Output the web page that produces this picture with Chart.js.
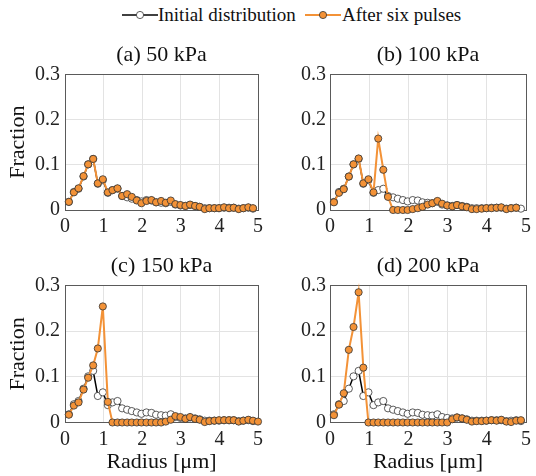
<!DOCTYPE html>
<html>
<head>
<meta charset="utf-8">
<script src="https://cdn.jsdelivr.net/npm/chart.js@4.4.1/dist/chart.umd.min.js"></script>
<style>
  body { margin: 0; width: 536px; height: 476px; background: #fff; position: relative; overflow: hidden; font-family: 'Times New Roman', 'Liberation Serif', 'DejaVu Serif', serif; }
  canvas { position: absolute; }
  .lg { position: absolute; font-size: 19px; color: #111; line-height: 24px; top: 3px; white-space: nowrap; }
  svg { position: absolute; }
</style>
</head>
<body>
<svg style="left:122px;top:9px" width="36" height="12"><line x1="0" y1="6" x2="36" y2="6" stroke="#000" stroke-width="1.6"/><circle cx="18" cy="6" r="3.6" fill="#fff" stroke="#333" stroke-width="0.8"/></svg>
<span class="lg" style="left:158px">Initial distribution</span>
<svg style="left:305px;top:9px" width="36" height="12"><line x1="0" y1="6" x2="36" y2="6" stroke="#f39237" stroke-width="2"/><circle cx="18" cy="6" r="3.6" fill="#f39237" stroke="#333" stroke-width="0.8"/></svg>
<span class="lg" style="left:342px">After six pulses</span>

<canvas id="pa" width="268" height="201" style="left:0;top:42px"></canvas>
<canvas id="pb" width="268" height="201" style="left:268px;top:42px"></canvas>
<canvas id="pc" width="268" height="223" style="left:0;top:253px"></canvas>
<canvas id="pd" width="268" height="223" style="left:268px;top:253px"></canvas>

<script>
// bubble radius bins (um)
const radius = [0.10, 0.23, 0.35, 0.48, 0.60, 0.73, 0.85, 0.98, 1.11, 1.23,
                1.36, 1.48, 1.61, 1.73, 1.86, 1.98, 2.11, 2.24, 2.36, 2.49,
                2.61, 2.74, 2.86, 2.99, 3.12, 3.24, 3.37, 3.49, 3.62, 3.74,
                3.87, 3.99, 4.12, 4.25, 4.37, 4.50, 4.62, 4.75, 4.87, 5.00];

const initial = [0.018, 0.040, 0.047, 0.074, 0.101, 0.113, 0.058, 0.066, 0.038, 0.044,
                 0.047, 0.031, 0.028, 0.025, 0.022, 0.019, 0.022, 0.021, 0.017, 0.016,
                 0.015, 0.018, 0.012, 0.010, 0.009, 0.011, 0.009, 0.007, 0.004, 0.004,
                 0.004, 0.004, 0.005, 0.005, 0.005, 0.003, 0.004, 0.005, 0.003];

const after50 = [0.018, 0.039, 0.048, 0.075, 0.101, 0.113, 0.059, 0.068, 0.039, 0.044,
                 0.048, 0.031, 0.035, 0.029, 0.021, 0.015, 0.020, 0.022, 0.017, 0.020,
                 0.016, 0.021, 0.013, 0.011, 0.009, 0.012, 0.009, 0.007, 0.002, 0.004,
                 0.004, 0.004, 0.006, 0.004, 0.005, 0.002, 0.004, 0.006, 0.004];

const after100 = [0.017, 0.038, 0.046, 0.074, 0.101, 0.114, 0.059, 0.068, 0.039, 0.158,
                  0.089, 0.029, 0.000, 0.000, 0.000, 0.000, 0.002, 0.004, 0.007, 0.012,
                  0.015, 0.020, 0.014, 0.010, 0.008, 0.011, 0.008, 0.006, 0.002, 0.002,
                  0.003, 0.004, 0.004, 0.005, 0.006, 0.002, 0.004, 0.005];

const after150 = [0.017, 0.037, 0.044, 0.072, 0.098, 0.125, 0.162, 0.254, 0.045, 0.000,
                  0.000, 0.000, 0.000, 0.000, 0.000, 0.000, 0.000, 0.000, 0.000, 0.000,
                  0.002, 0.006, 0.014, 0.012, 0.008, 0.012, 0.008, 0.006, 0.001, 0.003,
                  0.004, 0.005, 0.005, 0.005, 0.005, 0.002, 0.004, 0.006, 0.004, 0.002];

const after200 = [0.016, 0.039, 0.064, 0.159, 0.209, 0.285, 0.120, 0.000, 0.000, 0.000,
                  0.000, 0.000, 0.000, 0.000, 0.000, 0.000, 0.000, 0.000, 0.000, 0.000,
                  0.000, 0.000, 0.000, 0.000, 0.007, 0.011, 0.009, 0.006, 0.002, 0.003,
                  0.003, 0.004, 0.005, 0.004, 0.006, 0.002, 0.001, 0.004, 0.005];

const titles = ['(a) 50 kPa', '(b) 100 kPa', '(c) 150 kPa', '(d) 200 kPa'];

const ORANGE = '#f39237';
const SERIF = "'Times New Roman', 'Liberation Serif', 'DejaVu Serif', serif";

function toPoints(vals) {
    return vals.map((v, i) => ({ x: radius[i], y: v }));
}

// box around the axes, like matlab "box on"
const frame = {
    id: 'frame',
    beforeDatasetsDraw(chart) {
        const a = chart.chartArea;
        const ctx = chart.ctx;
        ctx.save();
        ctx.strokeStyle = '#5a5a5a';
        ctx.lineWidth = 1;
        ctx.strokeRect(Math.round(a.left) + 0.5, Math.round(a.top) + 0.5,
                       Math.round(a.right - a.left), Math.round(a.bottom - a.top));
        ctx.restore();
    }
};

function panel(id, title, after, o) {
    new Chart(document.getElementById(id), {
        type: 'line',
        data: {
            datasets: [{
                label: 'After six pulses',
                data: toPoints(after),
                borderColor: ORANGE,
                backgroundColor: ORANGE,
                borderWidth: 2,
                pointRadius: 3.6,
                pointBackgroundColor: ORANGE,
                pointBorderColor: '#333',
                pointBorderWidth: 0.8,
                clip: false,
                order: 0
            }, {
                label: 'Initial distribution',
                data: toPoints(initial),
                borderColor: '#000',
                borderWidth: 1.5,
                pointRadius: 3.6,
                pointBackgroundColor: '#fff',
                pointBorderColor: '#333',
                pointBorderWidth: 0.8,
                clip: false,
                order: 1
            }]
        },
        options: {
            responsive: false,
            animation: false,
            layout: { padding: { top: 0, right: o.padRight, bottom: 0, left: 0 } },
            plugins: {
                legend: { display: false },
                tooltip: { enabled: false },
                title: {
                    display: true,
                    text: title,
                    fullSize: false,
                    color: '#111',
                    font: { family: SERIF, size: 22, weight: 'normal' },
                    padding: { top: 0, bottom: 6 }
                }
            },
            scales: {
                x: {
                    type: 'linear',
                    min: 0,
                    max: 5,
                    ticks: { stepSize: 1, color: '#222', padding: 5, font: { family: SERIF, size: 20 } },
                    grid: { color: '#e3e3e3', drawTicks: false },
                    border: { display: false },
                    title: {
                        display: o.xTitle,
                        text: 'Radius [μm]',
                        color: '#111',
                        font: { family: SERIF, size: 22 },
                        padding: { top: 0, bottom: 1 }
                    },
                    afterFit: s => { s.height = o.xh; }
                },
                y: {
                    min: 0,
                    max: 0.3,
                    ticks: {
                        stepSize: 0.1,
                        color: '#222',
                        padding: o.tickPad,
                        font: { family: SERIF, size: 20 },
                        callback: v => v === 0 ? '0' : v.toFixed(1)
                    },
                    grid: { color: '#e3e3e3', drawTicks: false },
                    border: { display: false },
                    title: {
                        display: o.yTitle,
                        text: 'Fraction',
                        color: '#111',
                        font: { family: SERIF, size: 22 },
                        padding: { top: 5, bottom: 0 }
                    },
                    afterFit: s => { s.width = o.yw; }
                }
            }
        },
        plugins: [frame]
    });
}

panel('pa', titles[0], after50,  { yTitle: true,  xTitle: false, yw: 65, xh: 33,   padRight: 3, tickPad: 5 });
panel('pb', titles[1], after100, { yTitle: false, xTitle: false, yw: 62, xh: 33,   padRight: 6, tickPad: 4 });
panel('pc', titles[2], after150, { yTitle: true,  xTitle: true,  yw: 65, xh: 53.5, padRight: 3, tickPad: 5 });
panel('pd', titles[3], after200, { yTitle: false, xTitle: true,  yw: 62, xh: 53.5, padRight: 6, tickPad: 4 });
</script>
</body>
</html>
